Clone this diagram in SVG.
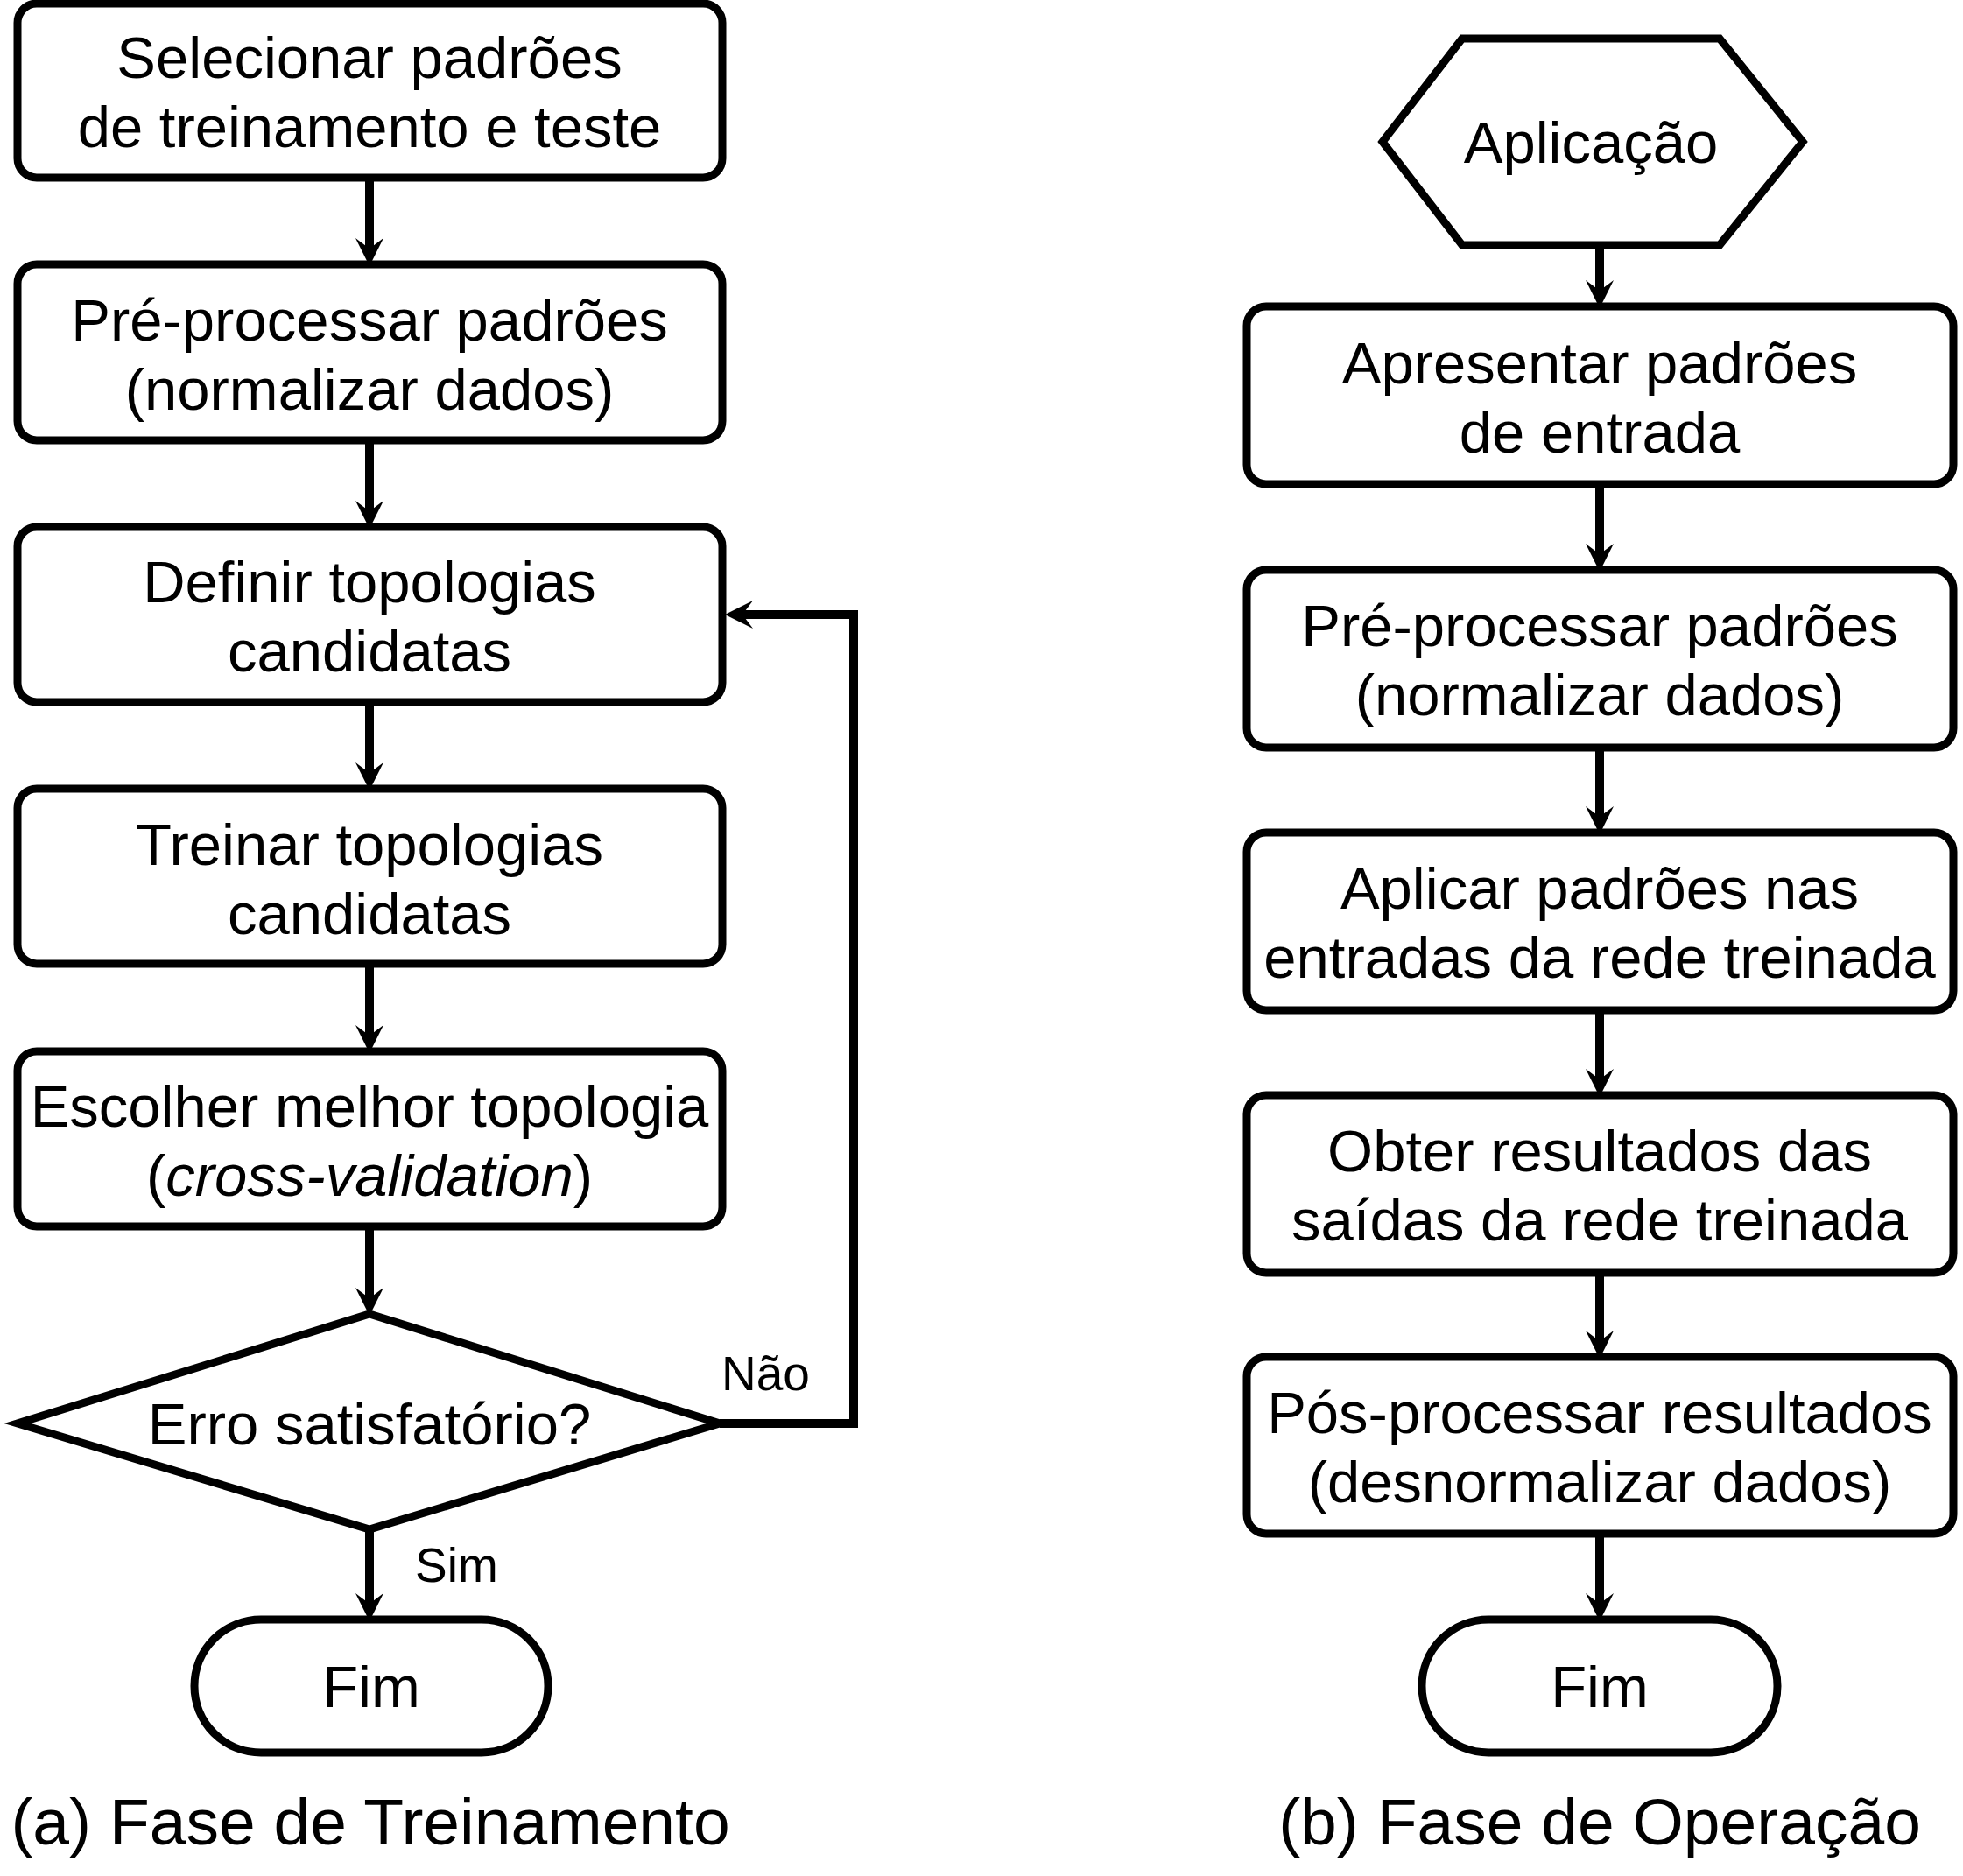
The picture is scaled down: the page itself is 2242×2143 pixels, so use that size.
<svg xmlns="http://www.w3.org/2000/svg" width="2242" height="2143" viewBox="0 0 2242 2143">
<style>
.box{fill:#fff;stroke:#000;stroke-width:9}
.t{font-family:"Liberation Sans",Arial,sans-serif;font-size:67px;text-anchor:middle;fill:#000}
.lbl{font-family:"Liberation Sans",Arial,sans-serif;font-size:55px;text-anchor:start;fill:#000}
.cap{font-family:"Liberation Sans",Arial,sans-serif;font-size:75px;text-anchor:middle;fill:#000}
.c{fill:none;stroke:#000;stroke-width:10}
</style>
<defs>
<marker id="ah" markerUnits="userSpaceOnUse" viewBox="-30 -20 44 40" refX="0" refY="0" markerWidth="44" markerHeight="40" orient="auto">
<path d="M14,0 L-18,-16 L-6,0 L-18,16 Z" fill="#000"/>
</marker>
</defs>
<rect width="2242" height="2143" fill="#fff"/>
<g id="connectors">
<path class="c" d="M422,203 V290" marker-end="url(#ah)"/>
<path class="c" d="M422,503 V590" marker-end="url(#ah)"/>
<path class="c" d="M422,802 V889" marker-end="url(#ah)"/>
<path class="c" d="M422,1101 V1189" marker-end="url(#ah)"/>
<path class="c" d="M422,1401 V1489" marker-end="url(#ah)"/>
<path class="c" d="M422,1747 V1838" marker-end="url(#ah)"/>
<path class="c" d="M822,1626 H975 V702 H842" marker-end="url(#ah)"/>
<path class="c" d="M1827,280 V338" marker-end="url(#ah)"/>
<path class="c" d="M1827,553 V639" marker-end="url(#ah)"/>
<path class="c" d="M1827,854 V939" marker-end="url(#ah)"/>
<path class="c" d="M1827,1154 V1239" marker-end="url(#ah)"/>
<path class="c" d="M1827,1454 V1538" marker-end="url(#ah)"/>
<path class="c" d="M1827,1752 V1838" marker-end="url(#ah)"/>
<text class="lbl" x="824" y="1588">Não</text>
<text class="lbl" x="474" y="1807">Sim</text>
</g>
<g id="a1"><rect class="box" x="20" y="4" width="805" height="199" rx="22"/>
<text class="t" x="422" y="89">Selecionar padrões</text><text class="t" x="422" y="168">de treinamento e teste</text></g>
<g id="a2"><rect class="box" x="20" y="302" width="805" height="201" rx="22"/>
<text class="t" x="422" y="389">Pré-processar padrões</text><text class="t" x="422" y="468">(normalizar dados)</text></g>
<g id="a3"><rect class="box" x="20" y="602" width="805" height="200" rx="22"/>
<text class="t" x="422" y="688">Definir topologias</text><text class="t" x="422" y="767">candidatas</text></g>
<g id="a4"><rect class="box" x="20" y="901" width="805" height="200" rx="22"/>
<text class="t" x="422" y="988">Treinar topologias</text><text class="t" x="422" y="1067">candidatas</text></g>
<g id="a5"><rect class="box" x="20" y="1201" width="805" height="200" rx="22"/>
<text class="t" x="422" y="1287">Escolher melhor topologia</text><text class="t" x="422" y="1366">(<tspan font-style="italic">cross-validation</tspan>)</text></g>
<g id="a6"><polygon class="box" points="422,1501 822,1626 422,1747 20,1626"/>
<text class="t" x="422" y="1650">Erro satisfatório?</text></g>
<g id="a7"><rect class="box" x="222" y="1850" width="404" height="152" rx="76"/>
<text class="t" x="424" y="1950">Fim</text></g>
<text class="cap" x="423" y="2107">(a) Fase de Treinamento</text>
<g id="b0"><polygon class="box" points="1670,44 1964,44 2059,162 1964,280 1670,280 1579,162"/>
<text class="t" x="1817" y="186">Aplicação</text></g>
<g id="b1"><rect class="box" x="1424" y="350" width="807" height="203" rx="22"/>
<text class="t" x="1827" y="438">Apresentar padrões</text><text class="t" x="1827" y="517">de entrada</text></g>
<g id="b2"><rect class="box" x="1424" y="651" width="807" height="203" rx="22"/>
<text class="t" x="1827" y="738">Pré-processar padrões</text><text class="t" x="1827" y="817">(normalizar dados)</text></g>
<g id="b3"><rect class="box" x="1424" y="951" width="807" height="203" rx="22"/>
<text class="t" x="1827" y="1038">Aplicar padrões nas</text><text class="t" x="1827" y="1117">entradas da rede treinada</text></g>
<g id="b4"><rect class="box" x="1424" y="1251" width="807" height="203" rx="22"/>
<text class="t" x="1827" y="1338">Obter resultados das</text><text class="t" x="1827" y="1417">saídas da rede treinada</text></g>
<g id="b5"><rect class="box" x="1424" y="1550" width="807" height="202" rx="22"/>
<text class="t" x="1827" y="1637">Pós-processar resultados</text><text class="t" x="1827" y="1716">(desnormalizar dados)</text></g>
<g id="b6"><rect class="box" x="1624" y="1850" width="406" height="152" rx="76"/>
<text class="t" x="1827" y="1950">Fim</text></g>
<text class="cap" x="1827" y="2107">(b) Fase de Operação</text>
</svg>
